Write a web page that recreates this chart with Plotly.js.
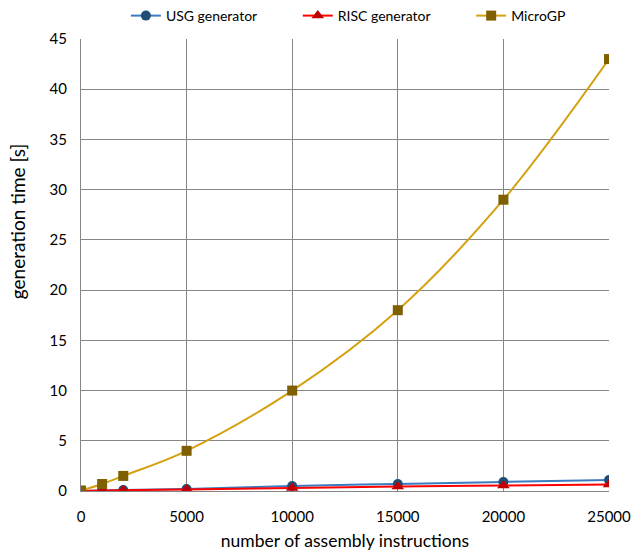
<!DOCTYPE html>
<html><head><meta charset="utf-8">
<script src="https://cdn.plot.ly/plotly-3.0.1.min.js"></script>
<style>html,body{margin:0;padding:0;background:#fff}</style>
</head><body><div id="c" style="width:634px;height:555px"></div>
<script>
const xVals = [0, 1000, 2000, 5000, 10000, 15000, 20000, 25000];
const usg = [0.0, 0.05, 0.1, 0.2, 0.5, 0.7, 0.9, 1.1];
const risc = [0.0, 0.05, 0.08, 0.15, 0.3, 0.45, 0.55, 0.65];
const microgp = [0.05, 0.7, 1.5, 4.0, 10.0, 18.0, 29.0, 43.0];
const names = ["USG generator", "RISC generator", "MicroGP"];
const xTitle = "number of assembly instructions";
const yTitle = "generation time [s]";

const pad = '\u00a0'.repeat(10);
const font = "Lato, 'Open Sans', sans-serif";
const traces = [
  {x: xVals, y: usg, name: names[0] + pad, mode: 'lines+markers', line: {color: '#3A7BC0', width: 2, shape: 'spline'}, marker: {symbol: 'circle', size: 10, color: '#1F4E79'}},
  {x: xVals, y: risc, name: names[1] + pad, mode: 'lines+markers', line: {color: '#FF0000', width: 2, shape: 'spline'}, marker: {symbol: 'triangle-up', size: 11, color: '#C00000'}},
  {x: xVals, y: microgp, name: names[2], mode: 'lines+markers', line: {color: '#D4A00F', width: 2, shape: 'spline'}, marker: {symbol: 'square', size: 10, color: '#7F6000'}}
];
const layout = {
  width: 634, height: 555,
  margin: {l: 81, r: 25, t: 39, b: 64, autoexpand: false},
  paper_bgcolor: '#fff', plot_bgcolor: '#fff',
  font: {family: font, size: 15, color: '#000'},
  showlegend: true,
  legend: {orientation: 'h', x: 0.085, xanchor: 'left', yref: 'container', y: 1, yanchor: 'top', font: {size: 14}, tracegroupgap: 0},
  xaxis: {range: [0, 25000], dtick: 5000, tick0: 0, tickformat: 'd', showgrid: true, gridcolor: '#868686', gridwidth: 1, zeroline: false, showline: true, linecolor: '#868686', ticks: '', ticklabelstandoff: 12, tickfont: {size: 15}, title: {text: xTitle, font: {size: 17.5}, standoff: 10}},
  yaxis: {range: [0, 45], dtick: 5, tick0: 0, showgrid: true, gridcolor: '#868686', gridwidth: 1, zeroline: false, showline: true, linecolor: '#868686', ticks: '', ticklabelstandoff: 10, tickfont: {size: 15}},
  annotations: [{text: yTitle, textangle: -90, xref: 'paper', yref: 'paper', x: -0.121, y: 0.595, xanchor: 'center', yanchor: 'middle', showarrow: false, font: {size: 19}}]
};
Plotly.newPlot('c', traces, layout, {displayModeBar: false});
</script></body></html>
